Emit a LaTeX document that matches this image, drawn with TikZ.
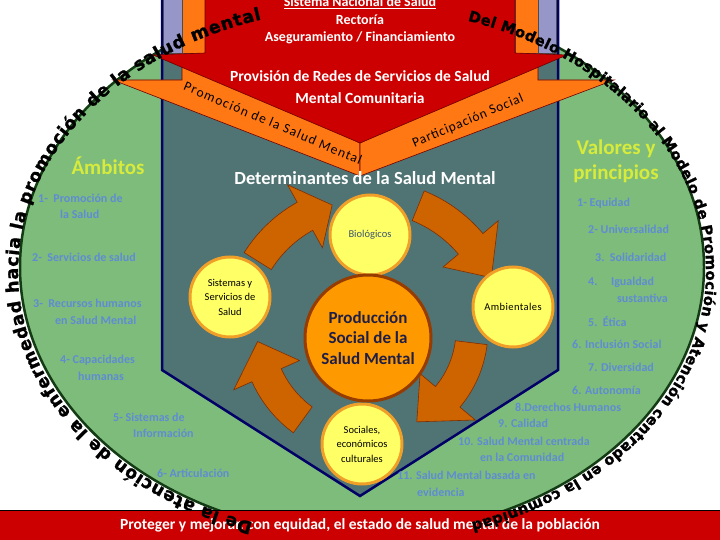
\documentclass[tikz,border=0pt]{standalone}
\usepackage{fontspec}
\setmainfont{Carlito}
\newfontfamily\heavyfont{DejaVu Sans}[BoldFeatures={FakeBold=1.2}]
\usetikzlibrary{decorations.text}
\definecolor{bgreen}{RGB}{126,188,124}
\definecolor{dgreen}{RGB}{20,60,20}
\definecolor{tealbg}{RGB}{80,115,115}
\definecolor{navy}{RGB}{0,0,102}
\definecolor{bred}{RGB}{204,0,0}
\definecolor{dred}{RGB}{110,0,0}
\definecolor{bandorange}{RGB}{255,120,20}
\definecolor{lav}{RGB}{150,150,200}
\definecolor{arrowfill}{RGB}{205,100,0}
\definecolor{arrowline}{RGB}{130,45,0}
\definecolor{cyellow}{RGB}{255,255,102}
\definecolor{cborder}{RGB}{240,160,40}
\definecolor{prodfill}{RGB}{255,153,0}
\definecolor{prodline}{RGB}{150,60,0}
\definecolor{listblue}{RGB}{95,140,210}
\definecolor{titleyel}{RGB}{215,235,60}
\definecolor{prodtext}{RGB}{30,30,70}
\definecolor{biotext}{RGB}{60,85,110}
% curved block arrow: radius, tail angle, head back angle, tip angle
\newcommand\cycarr[4]{%
  \filldraw[arrowst] plot[domain=#2:#3,samples=20] ({368+(#1+16)*cos(\x)},{330+(#1+16)*sin(\x)})
   -- ({368+(#1+36)*cos(#3)},{330+(#1+36)*sin(#3)})
   -- ({368+#1*cos(#4)},{330+#1*sin(#4)})
   -- ({368+(#1-36)*cos(#3)},{330+(#1-36)*sin(#3)})
   -- plot[domain=#3:#2,samples=20] ({368+(#1-16)*cos(\x)},{330+(#1-16)*sin(\x)})
   -- cycle;}
\begin{document}
\begin{tikzpicture}[x=1pt,y=-1pt,
  arrowst/.style={fill=arrowfill,draw=arrowline,line width=0.6pt},
  listitem/.style={font=\bfseries\fontsize{12}{12}\selectfont,text=listblue,anchor=west,inner sep=0pt},
  bigtitle/.style={font=\bfseries\fontsize{21}{25}\selectfont,text=titleyel,align=center,inner sep=0pt},
  circ/.style={circle,fill=cyellow,draw=cborder,line width=3pt,minimum size=80pt,inner sep=0pt,align=center,font=\fontsize{10.5}{14.5}\selectfont},
  redtxt/.style={text=white,font=\bfseries\fontsize{14}{14}\selectfont,inner sep=0pt},
  bandtxt/.style={font=\fontsize{13.5}{13.5}\selectfont,inner sep=0pt}]
\useasboundingbox (0,0) rectangle (720,540);
\fill[white] (0,0) rectangle (720,540);
% green ellipse
\filldraw[fill=bgreen,draw=dgreen,line width=2.5pt] (362,267) ellipse [x radius=342pt,y radius=268pt];
% teal pentagon
\fill[tealbg] (162,-2) -- (162,370) -- (360,496) -- (558,370) -- (558,-2) -- cycle;
\draw[navy,line width=2.5pt,line join=miter] (162,-2) -- (162,370) -- (360,496) -- (558,370) -- (558,-2);
% top bars
\filldraw[fill=lav,draw=black!70,line width=0.6pt] (163.5,-1) rectangle (182,53);
\filldraw[fill=lav,draw=black!70,line width=0.6pt] (538,-1) rectangle (556.5,53);
\filldraw[fill=bandorange,draw=black!70,line width=0.6pt] (182,-1) rectangle (205,53);
\filldraw[fill=bandorange,draw=black!70,line width=0.6pt] (515,-1) rectangle (538,53);
% orange bands
\filldraw[fill=bandorange,draw=dred,line width=0.6pt] (113,80) -- (182,80) -- (182,60) -- (360,143) -- (360,176) -- cycle;
\filldraw[fill=bandorange,draw=dred,line width=0.6pt] (614,80) -- (538,80) -- (538,60) -- (360,143) -- (360,176) -- cycle;
% red chevron
\filldraw[fill=bred,draw=dred,line width=0.6pt] (205,-1) -- (515,-1) -- (515,53) -- (567,55) -- (360,143) -- (153,55) -- (205,53) -- cycle;
% red texts
\node[redtxt] (sns) at (360,3) {\underline{Sistema Nacional de Salud}};
\node[redtxt] (rect) at (360,20) {Rectoría};
\node[redtxt] (aseg) at (360,38) {Aseguramiento / Financiamiento};
\node[redtxt,font=\bfseries\fontsize{15.5}{15.5}\selectfont] (prov1) at (360,76) {Provisión de Redes de Servicios de Salud};
\node[redtxt,font=\bfseries\fontsize{15.5}{15.5}\selectfont] (prov2) at (360,98) {Mental Comunitaria};
% band texts
\node[bandtxt,rotate=-23] (promo) at (273,123) {\addfontfeature{LetterSpace=9}Promoción de la Salud Mental};
\node[bandtxt,rotate=23] (partic) at (468,121) {\addfontfeature{LetterSpace=6}Participación Social};
% determinants
\node[text=white,font=\bfseries\fontsize{18.5}{18.5}\selectfont,inner sep=0pt] (det) at (365,178) {Determinantes de la Salud Mental};
% cycle arrows
\cycarr{130}{212}{241}{254}
\cycarr{134}{292}{320}{337}
\cycarr{104}{7}{40}{62}
\cycarr{111}{126}{156}{174}
% circles
\node[circ] (sist) at (230,297) {Sistemas y\\Servicios de\\Salud};
\node[circ,text=biotext] (bio) at (370,235) {Biológicos};
\node[circ] (amb) at (513,307) {\addfontfeature{LetterSpace=4}Ambientales};
\node[circ] (soc) at (362,444) {Sociales,\\económicos\\culturales};
\node[circle,fill=prodfill,draw=prodline,line width=3pt,minimum size=126pt,inner sep=0pt,align=center,text=prodtext,font=\bfseries\fontsize{17}{20.5}\selectfont] (prod) at (368,338) {Producción\\Social de la\\Salud Mental};
% left panel
\node[bigtitle] (amb1) at (108,166) {Ámbitos};
\node[listitem] (l1a) at (38,198) {1-\ \ Promoción de};
\node[listitem] (l1b) at (60,214) {la Salud};
\node[listitem] (l2) at (32,257) {2-\ \ Servicios de salud};
\node[listitem] (l3a) at (33,303) {3-\ \ Recursos humanos};
\node[listitem] (l3b) at (55,320) {en Salud Mental};
\node[listitem] (l4a) at (60,360) {4- Capacidades};
\node[listitem] (l4b) at (78,376) {humanas};
\node[listitem] (l5a) at (113,417) {5- Sistemas de};
\node[listitem] (l5b) at (133,433) {Información};
\node[listitem] (l6) at (157,473) {6- Articulación};
% right panel
\node[bigtitle] (val) at (616,161) {Valores y\\principios};
\node[listitem] (r1) at (577,203) {1- Equidad};
\node[listitem] (r2) at (588,229) {2- Universalidad};
\node[listitem] (r3) at (595,257) {3.\ \ Solidaridad};
\node[listitem] (r4a) at (588,282) {4.\ \ \ \ \ Igualdad};
\node[listitem] (r4b) at (617,298) {sustantiva};
\node[listitem] (r5) at (588,322) {5.\ \ Ética};
\node[listitem] (r6) at (572,344) {6. Inclusión Social};
\node[listitem] (r7) at (588,367) {7. Diversidad};
\node[listitem] (r8) at (572,390) {6. Autonomía};
\node[listitem] (r9) at (515,407) {8.Derechos Humanos};
\node[listitem] (r10) at (498,423) {9. Calidad};
\node[listitem] (r11a) at (458,441) {10. Salud Mental centrada};
\node[listitem] (r11b) at (480,457) {en la Comunidad};
\node[listitem] (r12a) at (397,475) {11. Salud Mental basada en};
\node[listitem] (r12b) at (417,492) {evidencia};
% bottom bar
\filldraw[fill=bred,draw=black,line width=0.8pt] (-2,510) rectangle (722,542);
\node[text=white,font=\bfseries\fontsize{15.5}{15.5}\selectfont,inner sep=0pt] (goal) at (360,525) {Proteger y mejorar, con equidad, el estado de salud mental de la población};
% curved texts
\path[decorate,decoration={text along path,text align={fit to path},raise=2pt,
  text={|\heavyfont\bfseries\fontsize{17.5}{17.5}\selectfont|De la atención de la enfermedad hacia la promoción de la salud mental}}]
  plot[domain=108.5:253,samples=200] ({362+342*cos(\x)},{272+262*sin(\x)});
\path[decorate,decoration={text along path,text align={fit to path},raise=2pt,
  text={|\heavyfont\bfseries\fontsize{14.8}{14.8}\selectfont|Del Modelo Hospitalario al Modelo de Promoción y Atención centrado en la comunidad}}]
  plot[domain=287.9:431.5,samples=200] ({362+342*cos(\x)},{272+262*sin(\x)});
\end{tikzpicture}
\end{document}
